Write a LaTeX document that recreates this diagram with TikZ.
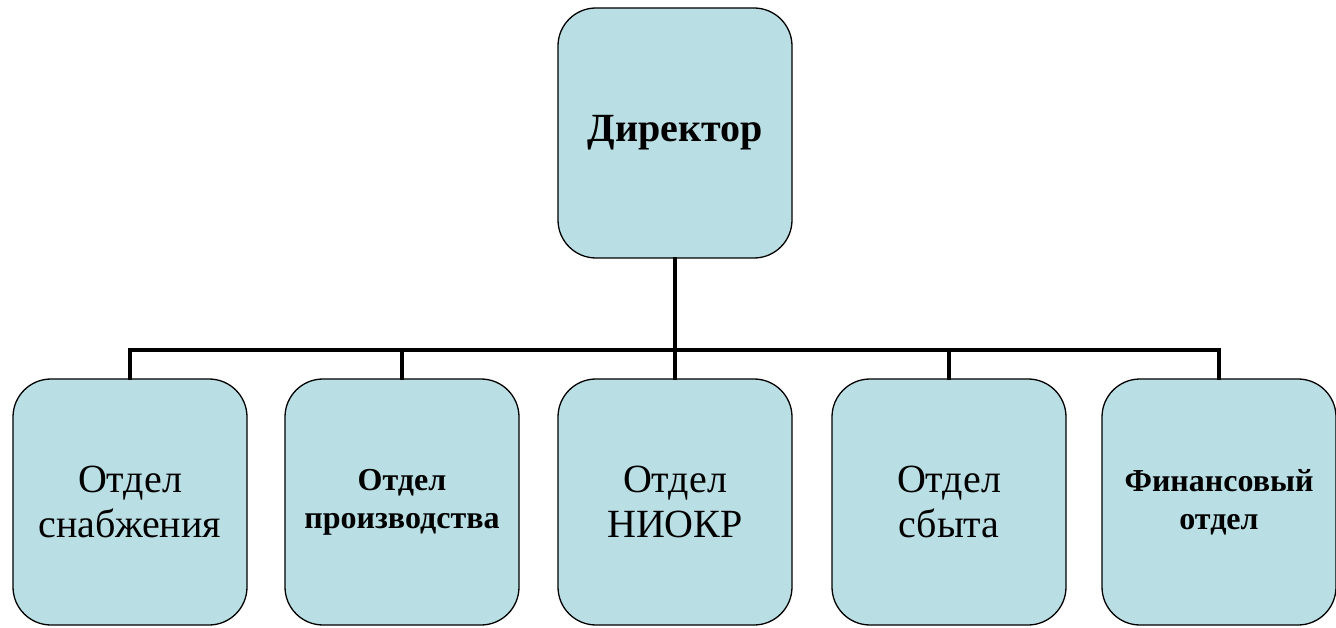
\documentclass[tikz,border=0pt]{standalone}
\usepackage{fontspec}
\setmainfont{Liberation Serif}
\usetikzlibrary{positioning,calc}
\definecolor{boxfill}{RGB}{185,222,228}
\tikzset{
  unit/.style   ={draw, line width=1.3pt, rounded corners=38pt, minimum width=234pt, minimum height=246pt, align=center, fill=boxfill, inner sep=2pt},
  bigtxt/.style ={font=\fontsize{40}{45}\selectfont},
  smalltxt/.style={font=\fontsize{32}{38}\selectfont\bfseries},
  conn/.style   ={line width=4pt, line cap=rect},
}
\begin{document}
\begin{tikzpicture}[x=1pt,y=1pt]
  \useasboundingbox (0,0) rectangle (1336,627);
  % director
  \node[unit, minimum height=250pt, font=\fontsize{40}{45}\selectfont\bfseries] (dir) at (675,494) {Директор};
  % departments
  \foreach \i/\x/\st/\txt in {1/130/bigtxt/{Отдел\\снабжения}, 2/402/smalltxt/{Отдел\\производства}, 3/675/bigtxt/{Отдел\\НИОКР}, 4/949/bigtxt/{Отдел\\сбыта}, 5/1219/smalltxt/{Финансовый\\отдел}} {
    \node[unit, \st] (d\i) at (\x,125) {\txt};
  }
  \coordinate (bus) at (675,277);
  % links
  \draw[conn] (dir.south) -- (bus);
  \draw[conn] (bus -| d1.north) -- (bus -| d5.north);
  \foreach \i in {1,...,5}
    \draw[conn] (bus -| d\i.north) -- (d\i.north);
\end{tikzpicture}
\end{document}
